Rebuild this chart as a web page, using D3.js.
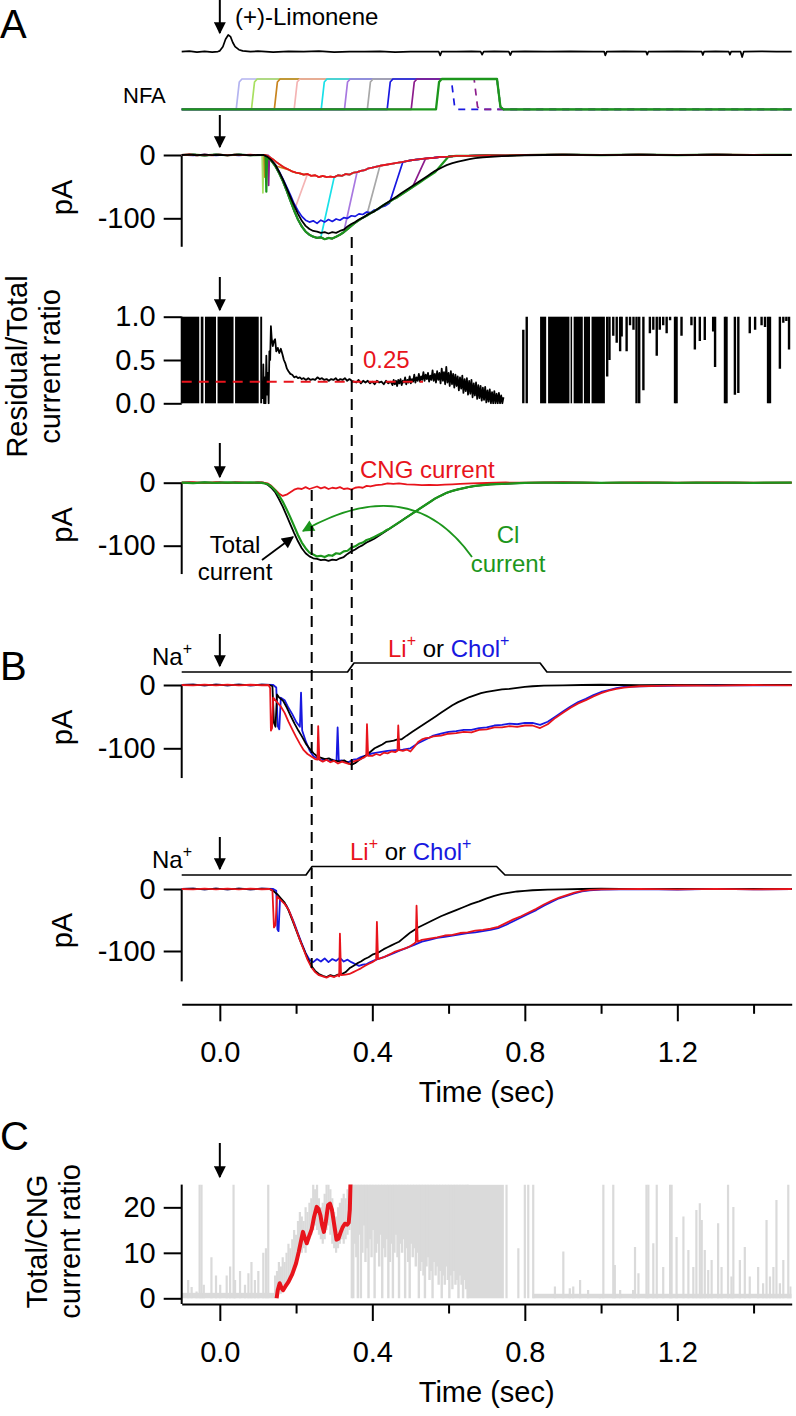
<!DOCTYPE html>
<html><head><meta charset="utf-8">
<script src="https://cdn.jsdelivr.net/npm/d3@7"></script>
<style>body{margin:0;background:#fff}svg{display:block}text{font-family:"Liberation Sans",Arial,sans-serif}</style>
</head><body><svg id="c" width="796" height="1416"></svg>
<script>
// ---------------- DATA ----------------
const timeMajorTicks = [0.0, 0.4, 0.8, 1.2];
const timeMinorTicks = [0.2, 0.6, 1.0, 1.4];
const currentTicks = [0, -100];
const ratioTicks = [0.0, 0.5, 1.0];
const cTicks = [0, 10, 20];
const dashTimes = [0.346, 0.241];
const refRatio = 0.25;

const limonene = [[-0.1,0],[-0.08,0.03],[-0.06,-0.02],[-0.04,0.02],[-0.02,-0.03],[-0.005,0.01],[0.0,0.05],[0.008,0.3],[0.015,0.75],[0.022,1.0],[0.028,0.9],[0.034,0.55],[0.04,0.3],[0.05,0.12],[0.06,0.05],[0.08,0],[0.1,0.03],[0.14,-0.02],[0.18,0.02],[0.22,0],[0.26,0.03],[0.3,-0.02],[0.34,0.01],[0.38,0],[0.42,0.02],[0.46,-0.02],[0.5,0.01],[0.54,0],[0.574,0.01],[0.578,-0.22],[0.582,0.01],[0.62,0],[0.66,0.02],[0.684,0],[0.688,-0.18],[0.692,0],[0.72,0.02],[0.758,0],[0.762,-0.2],[0.766,0],[0.8,0.02],[0.86,0],[0.92,0.02],[0.98,0],[1.008,0.01],[1.011,-0.22],[1.015,0],[1.06,0.02],[1.118,0],[1.121,-0.18],[1.124,0],[1.2,0.02],[1.264,0],[1.267,-0.2],[1.27,0],[1.3,0.02],[1.335,0],[1.338,-0.18],[1.341,0],[1.366,0],[1.37,-0.32],[1.374,0],[1.42,0.02],[1.46,0],[1.5,0.01]];

const nfaColors = ['#b4b4f0','#a8e060','#c8841e','#f4b4b4','#18e0e8','#a878e0','#a8a8a8','#1818e0','#8c1c8c','#1c961c'];
const nfaOn  = [0.046,0.086,0.146,0.198,0.269,0.330,0.390,0.442,0.505,0.570];
const nfaOff = [0.73,0.73,0.73,0.73,0.73,0.73,0.73,0.61,0.67,0.73];
const nfaDashedAfter = [null,null,null,null,null,null,null,0.59,0.59,null];
const nfaPreTrace = ['late','late','late','late','late','late','late','blue','late','late'];
const nfaSpikes = [[1,0.113,-60],[2,0.118,-35],[9,0.122,-58],[8,0.128,-48]];

const totalCurrent = [[-0.1,0],[-0.08,0.6],[-0.06,-0.4],[-0.04,0.5],[-0.02,-0.3],[0,0.4],[0.02,-0.5],[0.04,0.6],[0.06,0.2],[0.08,-0.4],[0.1,0.3],[0.115,0],[0.125,-3],[0.135,-8],[0.145,-15],[0.155,-26],[0.165,-38],[0.175,-52],[0.185,-66],[0.195,-80],[0.205,-93],[0.215,-104],[0.225,-112],[0.235,-117],[0.245,-120],[0.255,-121],[0.265,-123],[0.275,-122],[0.285,-124],[0.295,-122],[0.305,-123],[0.315,-120],[0.325,-118],[0.335,-113],[0.345,-109],[0.355,-106],[0.365,-102],[0.375,-99],[0.385,-95],[0.395,-92],[0.405,-89],[0.415,-85],[0.425,-81],[0.435,-77],[0.445,-73],[0.455,-69],[0.465,-65],[0.475,-61],[0.485,-57],[0.495,-53],[0.505,-49],[0.515,-45],[0.525,-41],[0.535,-37],[0.545,-33],[0.555,-29],[0.565,-25],[0.575,-22],[0.585,-19],[0.595,-16],[0.61,-13],[0.625,-10.5],[0.64,-8.5],[0.655,-6.5],[0.67,-5],[0.69,-3.8],[0.71,-2.8],[0.74,-1.8],[0.77,-1],[0.8,-0.4],[0.85,0],[0.9,0.3],[1.0,-0.2],[1.1,0.2],[1.2,-0.2],[1.3,0.2],[1.4,-0.2],[1.5,0]];

const residualCurrent = [[-0.1,0],[-0.08,0.8],[-0.06,-0.5],[-0.04,0.6],[-0.02,-0.4],[0,0.5],[0.02,-0.6],[0.04,0.5],[0.06,-0.3],[0.08,0.4],[0.1,-0.2],[0.12,0],[0.13,-3],[0.14,-7],[0.15,-12],[0.16,-16],[0.17,-20],[0.18,-23],[0.19,-26],[0.2,-28],[0.21,-29],[0.22,-31],[0.23,-30],[0.24,-33],[0.25,-32],[0.26,-35],[0.27,-33],[0.28,-35],[0.29,-34],[0.3,-35],[0.31,-32],[0.32,-33],[0.33,-30],[0.34,-31],[0.35,-28],[0.36,-27],[0.37,-25],[0.38,-24],[0.39,-21],[0.4,-20],[0.42,-17],[0.44,-15],[0.46,-13],[0.48,-11],[0.5,-8.5],[0.52,-7],[0.54,-5.5],[0.56,-4.5],[0.58,-3],[0.6,-2.5],[0.62,-1.5],[0.65,-1.5],[0.7,-0.5],[0.75,-0.8],[0.8,0],[0.9,0.6],[1.0,-0.3],[1.1,0.5],[1.2,-0.2],[1.3,0.6],[1.4,0],[1.5,0.3]];

const lateCurrent = [[-0.1,0],[-0.07,0.5],[-0.04,-0.5],[-0.01,0.5],[0.02,-0.4],[0.05,0.5],[0.08,-0.4],[0.115,0],[0.125,-3],[0.135,-9],[0.145,-17],[0.155,-28],[0.165,-41],[0.175,-56],[0.185,-72],[0.195,-88],[0.205,-102],[0.215,-113],[0.225,-121],[0.235,-126],[0.245,-129],[0.255,-131],[0.265,-130],[0.275,-133],[0.285,-131],[0.295,-132],[0.305,-129],[0.315,-126],[0.325,-122],[0.335,-117],[0.345,-112],[0.355,-107],[0.365,-103],[0.375,-99],[0.385,-96],[0.395,-92],[0.405,-89],[0.415,-85],[0.425,-81],[0.435,-77],[0.445,-74],[0.455,-70],[0.465,-67],[0.475,-63],[0.485,-59],[0.495,-55],[0.505,-51],[0.515,-47],[0.525,-43],[0.535,-39],[0.545,-35],[0.555,-31],[0.565,-27],[0.575,-23],[0.59,-19]];

const blueCurrent = [[-0.1,0],[-0.07,-0.5],[-0.04,0.5],[-0.01,-0.5],[0.02,0.4],[0.05,-0.5],[0.08,0.4],[0.115,0],[0.125,-3],[0.135,-8],[0.145,-15],[0.155,-25],[0.165,-37],[0.175,-50],[0.185,-63],[0.195,-77],[0.205,-88],[0.215,-97],[0.225,-103],[0.235,-106],[0.245,-104],[0.255,-108],[0.265,-103],[0.275,-106],[0.285,-102],[0.295,-105],[0.305,-101],[0.315,-103],[0.325,-99],[0.335,-100],[0.345,-96],[0.355,-97],[0.365,-93],[0.375,-94],[0.385,-90],[0.395,-91],[0.405,-87],[0.415,-86],[0.425,-82],[0.435,-80],[0.445,-76]];

const ratioBlocks = [[-0.1,-0.054],[-0.05,-0.043],[-0.039,-0.010],[-0.006,0.036],[0.040,0.102],[0.106,0.111],[0.840,0.856],[0.861,0.917],[0.920,0.924],[0.928,0.952],[0.955,0.971],[0.975,1.010]];
const ratioTrace = [[0.112,0.05],[0.114,0.45],[0.116,0.0],[0.118,0.3],[0.12,0.0],[0.122,0.55],[0.124,0.1],[0.126,0.35],[0.128,0.0],[0.13,0.6],[0.132,0.5],[0.134,0.89],[0.136,0.75],[0.139,0.66],[0.142,0.72],[0.145,0.74],[0.148,0.6],[0.152,0.64],[0.156,0.58],[0.16,0.63],[0.164,0.57],[0.168,0.5],[0.172,0.46],[0.176,0.4],[0.18,0.37],[0.185,0.34],[0.19,0.33],[0.195,0.3],[0.2,0.31],[0.205,0.29],[0.21,0.3],[0.215,0.28],[0.22,0.29],[0.226,0.27],[0.232,0.29],[0.238,0.27],[0.244,0.28],[0.25,0.27],[0.256,0.3],[0.262,0.28],[0.268,0.29],[0.274,0.27],[0.28,0.28],[0.286,0.26],[0.292,0.28],[0.298,0.27],[0.304,0.29],[0.31,0.26],[0.316,0.28],[0.322,0.27],[0.328,0.29],[0.334,0.26],[0.34,0.28],[0.346,0.26],[0.352,0.25],[0.358,0.24],[0.364,0.27],[0.37,0.23],[0.376,0.26],[0.382,0.24],[0.388,0.26],[0.394,0.23],[0.4,0.25],[0.406,0.22],[0.412,0.26],[0.418,0.24],[0.424,0.25],[0.43,0.22],[0.436,0.26],[0.442,0.23],[0.448,0.25],[0.453,0.21],[0.456,0.27],[0.459,0.22],[0.462,0.26],[0.465,0.2],[0.468,0.27],[0.471,0.23],[0.474,0.28],[0.477,0.21],[0.48,0.26],[0.483,0.24],[0.486,0.3],[0.489,0.22],[0.492,0.27],[0.495,0.24],[0.498,0.31],[0.501,0.23],[0.504,0.28],[0.507,0.25],[0.51,0.33],[0.513,0.24],[0.516,0.3],[0.519,0.26],[0.522,0.34],[0.525,0.25],[0.528,0.31],[0.531,0.27],[0.534,0.36],[0.537,0.26],[0.54,0.33],[0.543,0.28],[0.546,0.35],[0.549,0.25],[0.552,0.32],[0.555,0.27],[0.558,0.38],[0.561,0.26],[0.564,0.34],[0.567,0.24],[0.57,0.37],[0.573,0.27],[0.576,0.35],[0.579,0.23],[0.582,0.4],[0.585,0.26],[0.588,0.36],[0.591,0.22],[0.594,0.42],[0.597,0.24],[0.6,0.35],[0.603,0.2],[0.606,0.37],[0.609,0.22],[0.612,0.34],[0.615,0.18],[0.618,0.33],[0.621,0.2],[0.624,0.31],[0.627,0.15],[0.63,0.3],[0.633,0.17],[0.636,0.32],[0.639,0.12],[0.642,0.28],[0.645,0.14],[0.648,0.29],[0.651,0.1],[0.654,0.26],[0.657,0.11],[0.66,0.27],[0.663,0.07],[0.666,0.23],[0.669,0.09],[0.672,0.24],[0.675,0.05],[0.678,0.21],[0.681,0.06],[0.684,0.2],[0.687,0.03],[0.69,0.18],[0.693,0.04],[0.696,0.19],[0.699,0.01],[0.702,0.15],[0.705,0.02],[0.708,0.16],[0.711,0.0],[0.714,0.13],[0.717,0.0],[0.72,0.14],[0.723,0.0],[0.726,0.11],[0.729,0.0],[0.732,0.12],[0.735,0.0],[0.738,0.09],[0.741,0.0],[0.744,0.07]];
const ratioSegments = [[0.796,0,0.85],[0.805,0,1],[1.016,0.31,1],[1.022,0.5,1],[1.032,0.78,1],[1.041,0.7,1],[1.05,0.6,1],[1.054,0.77,1],[1.067,0.6,1],[1.076,0.9,1],[1.085,0.85,1],[1.093,0,1],[1.1,0,1],[1.111,0.15,1],[1.128,0.81,1],[1.137,0.85,1],[1.146,0.55,1],[1.154,0.85,1],[1.163,0.9,1],[1.172,0.81,1],[1.181,0.96,1],[1.194,0,1],[1.198,0,1],[1.211,0.78,1],[1.237,0.9,1],[1.246,0.62,1],[1.259,0.72,1],[1.272,0.73,1],[1.294,0.83,1],[1.299,0.42,1],[1.325,0,1],[1.329,0,1],[1.351,0.1,1],[1.36,0.12,1],[1.39,0.81,1],[1.404,0.85,1],[1.421,0.9,1],[1.43,0.88,1],[1.438,0,1],[1.443,0,1],[1.469,0.4,1],[1.478,0.93,1],[1.486,0.95,1],[1.493,0.62,1]];

const cngCurrent = [[-0.1,0],[-0.07,0.8],[-0.04,-0.5],[-0.01,0.7],[0.02,-0.4],[0.05,0.6],[0.08,-0.3],[0.11,0.3],[0.125,-1],[0.135,-5],[0.145,-11],[0.155,-17],[0.165,-21],[0.175,-19],[0.185,-15],[0.195,-11],[0.205,-9],[0.215,-10],[0.225,-7],[0.235,-10],[0.245,-8],[0.255,-6],[0.265,-9],[0.275,-7],[0.285,-10],[0.295,-8],[0.305,-9],[0.315,-7],[0.325,-10],[0.335,-9],[0.345,-11],[0.355,-8],[0.365,-7],[0.375,-8],[0.385,-5],[0.395,-6],[0.41,-4],[0.425,-3],[0.44,-1],[0.455,-2],[0.47,-1],[0.49,-2.5],[0.51,-3],[0.53,-4],[0.55,-3.5],[0.57,-4],[0.59,-3],[0.61,-2.5],[0.63,-2],[0.66,-1],[0.7,-0.5],[0.75,0.3],[0.8,0],[0.9,0.4],[1.0,-0.2],[1.1,0.4],[1.2,0],[1.3,0.5],[1.4,0],[1.5,0.2]];

const clCurrent = [[-0.1,0],[-0.07,-0.6],[-0.04,0.5],[-0.01,-0.4],[0.02,0.6],[0.05,-0.3],[0.08,0.5],[0.11,-0.2],[0.125,-2],[0.135,-6],[0.145,-12],[0.155,-20],[0.165,-30],[0.175,-42],[0.185,-55],[0.195,-69],[0.205,-83],[0.215,-95],[0.225,-104],[0.235,-111],[0.245,-114],[0.255,-117],[0.265,-116],[0.275,-118],[0.285,-115],[0.295,-116],[0.305,-112],[0.315,-113],[0.325,-109],[0.335,-108],[0.345,-103],[0.355,-101],[0.365,-97],[0.375,-95],[0.385,-91],[0.395,-89],[0.405,-86],[0.415,-83],[0.425,-80],[0.435,-76],[0.445,-73],[0.455,-69],[0.465,-65],[0.475,-61],[0.485,-57],[0.495,-53],[0.505,-49],[0.515,-45],[0.525,-41],[0.535,-37],[0.545,-33],[0.555,-29],[0.565,-25],[0.575,-22],[0.585,-19],[0.595,-16],[0.61,-13],[0.625,-10.5],[0.64,-8.5],[0.655,-6.5],[0.67,-5],[0.69,-3.8],[0.71,-2.8],[0.74,-1.8],[0.77,-1],[0.8,-0.4],[0.85,0.3],[0.9,-0.3],[0.95,0.3],[1.0,-0.3],[1.05,0.3],[1.1,-0.3],[1.15,0.3],[1.2,-0.3],[1.25,0.3],[1.3,-0.3],[1.35,0.3],[1.4,-0.3],[1.45,0.3],[1.5,0]];

const b1Solution = [[-0.1,0],[0.335,0],[0.352,1],[0.84,1],[0.858,0],[1.5,0]];
const b2Solution = [[-0.1,0],[0.226,0],[0.242,1],[0.726,1],[0.748,0],[1.5,0]];

const b1Black = [[-0.1,0],[-0.07,0.7],[-0.04,-0.5],[-0.01,0.6],[0.02,-0.4],[0.05,0.5],[0.08,-0.4],[0.11,0.4],[0.13,0],[0.138,-2],[0.142,-60],[0.146,-66],[0.15,-15],[0.156,-20],[0.166,-25],[0.176,-36],[0.186,-49],[0.196,-61],[0.206,-72],[0.216,-82],[0.226,-93],[0.236,-101],[0.246,-108],[0.256,-113],[0.266,-115],[0.276,-117],[0.286,-116],[0.296,-119],[0.306,-120],[0.316,-121],[0.326,-119],[0.336,-123],[0.346,-126],[0.356,-123],[0.366,-118],[0.376,-114],[0.386,-110],[0.396,-105],[0.406,-100],[0.416,-97],[0.426,-94],[0.436,-90],[0.446,-89],[0.456,-88],[0.466,-86],[0.476,-86],[0.49,-80],[0.505,-74],[0.52,-68],[0.535,-62],[0.55,-56],[0.565,-50],[0.58,-44],[0.595,-38],[0.61,-32],[0.625,-27],[0.64,-23],[0.655,-19],[0.67,-16],[0.685,-13],[0.7,-11],[0.72,-9],[0.74,-7],[0.76,-6],[0.78,-4.5],[0.8,-3],[0.82,-2],[0.85,-1],[0.9,-0.5],[0.95,0],[1.0,0.4],[1.1,-0.3],[1.2,0.3],[1.3,-0.2],[1.4,0.3],[1.5,0]];
const b1Red = [[-0.1,0],[-0.07,-0.6],[-0.04,0.6],[-0.01,-0.5],[0.02,0.5],[0.05,-0.6],[0.08,0.4],[0.11,-0.4],[0.128,0],[0.132,-5],[0.134,-72],[0.137,-68],[0.14,-20],[0.15,-27],[0.16,-34],[0.17,-44],[0.18,-58],[0.19,-70],[0.2,-82],[0.21,-93],[0.22,-103],[0.23,-109],[0.24,-113],[0.25,-117],[0.256,-118],[0.258,-65],[0.261,-118],[0.27,-121],[0.28,-118],[0.29,-122],[0.3,-120],[0.31,-124],[0.32,-121],[0.33,-123],[0.34,-125],[0.35,-121],[0.36,-119],[0.37,-117],[0.38,-114],[0.384,-112],[0.386,-62],[0.389,-112],[0.4,-112],[0.41,-109],[0.42,-111],[0.43,-107],[0.44,-108],[0.45,-105],[0.46,-106],[0.466,-104],[0.468,-64],[0.471,-103],[0.48,-104],[0.49,-102],[0.5,-105],[0.51,-98],[0.52,-90],[0.53,-86],[0.54,-84],[0.55,-83],[0.56,-81],[0.58,-80],[0.6,-77],[0.62,-76],[0.64,-74],[0.66,-75],[0.68,-71],[0.7,-70],[0.72,-67],[0.74,-67],[0.76,-65],[0.78,-66],[0.8,-64],[0.82,-64],[0.84,-68],[0.86,-62],[0.88,-52],[0.9,-44],[0.92,-36],[0.94,-29],[0.96,-24],[0.98,-18],[1.0,-13],[1.02,-9],[1.04,-6],[1.06,-4],[1.08,-3],[1.1,-2],[1.15,-1.5],[1.2,-0.5],[1.3,-1],[1.4,0],[1.5,-0.5]];
const b1Blue = [[-0.1,0],[-0.07,0.5],[-0.04,-0.6],[-0.01,0.5],[0.02,-0.4],[0.05,0.6],[0.08,-0.5],[0.11,0.5],[0.14,0],[0.148,-4],[0.152,-65],[0.156,-70],[0.16,-20],[0.17,-24],[0.18,-36],[0.19,-46],[0.2,-58],[0.21,-66],[0.213,-12],[0.216,-72],[0.226,-90],[0.236,-104],[0.246,-113],[0.256,-116],[0.266,-119],[0.276,-117],[0.286,-120],[0.296,-118],[0.306,-121],[0.309,-67],[0.312,-120],[0.32,-119],[0.33,-122],[0.34,-121],[0.35,-118],[0.36,-117],[0.37,-114],[0.38,-112],[0.39,-110],[0.4,-108],[0.42,-106],[0.44,-104],[0.46,-103],[0.48,-102],[0.5,-100],[0.52,-92],[0.54,-86],[0.56,-80],[0.58,-77],[0.6,-74],[0.62,-73],[0.64,-71],[0.66,-71],[0.68,-68],[0.7,-67],[0.72,-64],[0.74,-63],[0.76,-61],[0.78,-62],[0.8,-60],[0.82,-60],[0.84,-63],[0.86,-58],[0.88,-50],[0.9,-42],[0.92,-34],[0.94,-27],[0.96,-22],[0.98,-16],[1.0,-11],[1.02,-8],[1.04,-5],[1.06,-3],[1.1,-2],[1.2,-1],[1.3,0],[1.4,-0.5],[1.5,0]];

const b2Black = [[-0.1,0],[-0.07,0.6],[-0.04,-0.5],[-0.01,0.5],[0.02,-0.5],[0.05,0.6],[0.08,-0.4],[0.11,0.4],[0.13,0],[0.14,-3],[0.15,-8],[0.16,-15],[0.17,-22],[0.18,-34],[0.19,-50],[0.2,-66],[0.21,-82],[0.22,-97],[0.23,-112],[0.24,-124],[0.25,-132],[0.26,-137],[0.27,-140],[0.28,-142],[0.29,-139],[0.3,-141],[0.31,-138],[0.32,-137],[0.33,-134],[0.34,-128],[0.35,-124],[0.36,-120],[0.37,-117],[0.38,-113],[0.39,-110],[0.4,-106],[0.41,-104],[0.42,-101],[0.43,-97],[0.44,-94],[0.45,-91],[0.46,-88],[0.47,-85],[0.48,-80],[0.49,-75],[0.5,-70],[0.51,-66],[0.52,-62],[0.54,-56],[0.56,-50],[0.58,-44],[0.6,-39],[0.62,-34],[0.64,-29],[0.66,-24],[0.68,-20],[0.7,-15],[0.72,-11],[0.74,-8],[0.76,-6],[0.78,-4],[0.8,-3],[0.82,-2],[0.86,-1],[0.9,-0.5],[0.95,0],[1.0,0.4],[1.1,-0.3],[1.2,0.3],[1.3,-0.3],[1.4,0.3],[1.5,0]];
const b2Red = [[-0.1,0],[-0.07,-0.5],[-0.04,0.6],[-0.01,-0.5],[0.02,0.5],[0.05,-0.5],[0.08,0.5],[0.11,-0.4],[0.13,0],[0.138,-2],[0.142,-62],[0.146,-58],[0.15,-12],[0.16,-18],[0.17,-24],[0.18,-33],[0.19,-48],[0.2,-65],[0.21,-82],[0.22,-98],[0.23,-114],[0.24,-126],[0.25,-134],[0.26,-139],[0.27,-141],[0.28,-143],[0.29,-140],[0.3,-142],[0.31,-139],[0.313,-141],[0.315,-72],[0.318,-139],[0.33,-138],[0.34,-137],[0.35,-134],[0.36,-131],[0.37,-128],[0.38,-124],[0.39,-121],[0.4,-118],[0.41,-114],[0.412,-53],[0.415,-113],[0.43,-110],[0.44,-107],[0.45,-104],[0.46,-101],[0.47,-99],[0.48,-97],[0.49,-95],[0.5,-92],[0.51,-88],[0.514,-86],[0.516,-27],[0.519,-85],[0.53,-82],[0.55,-80],[0.57,-78],[0.59,-75],[0.61,-74],[0.63,-71],[0.65,-70],[0.67,-67],[0.69,-66],[0.71,-64],[0.73,-61],[0.75,-55],[0.77,-49],[0.79,-44],[0.81,-38],[0.83,-32],[0.85,-25],[0.87,-19],[0.89,-14],[0.91,-10],[0.93,-6],[0.95,-3],[0.97,-1.5],[1.0,-0.5],[1.1,0.3],[1.2,-0.5],[1.3,0.2],[1.4,-0.5],[1.5,0]];
const b2Blue = [[-0.1,0],[-0.07,0.5],[-0.04,-0.5],[-0.01,0.6],[0.02,-0.5],[0.05,0.5],[0.08,-0.5],[0.11,0.4],[0.14,0],[0.148,-3],[0.151,-65],[0.154,-68],[0.158,-15],[0.165,-20],[0.175,-27],[0.185,-40],[0.195,-55],[0.205,-72],[0.215,-88],[0.225,-103],[0.235,-114],[0.245,-118],[0.255,-113],[0.265,-117],[0.275,-112],[0.285,-118],[0.295,-113],[0.305,-116],[0.315,-111],[0.325,-117],[0.335,-114],[0.345,-118],[0.355,-121],[0.365,-124],[0.375,-122],[0.385,-121],[0.395,-118],[0.41,-114],[0.43,-110],[0.45,-105],[0.47,-100],[0.49,-95],[0.51,-90],[0.53,-85],[0.55,-82],[0.57,-79],[0.59,-77],[0.61,-75],[0.63,-73],[0.65,-71],[0.67,-70],[0.69,-68],[0.71,-66],[0.73,-63],[0.75,-58],[0.77,-52],[0.79,-46],[0.81,-40],[0.83,-34],[0.85,-27],[0.87,-21],[0.89,-15],[0.91,-11],[0.93,-7],[0.95,-4],[0.97,-2],[1.0,-1],[1.1,0],[1.2,-0.8],[1.3,0.2],[1.4,-0.6],[1.5,0]];

const cRatioRed = [[0.149,0],[0.152,1.8],[0.157,3.3],[0.162,2.2],[0.166,1.8],[0.172,2.6],[0.18,3.6],[0.19,5.3],[0.2,7.7],[0.207,10.2],[0.213,12.6],[0.218,14.6],[0.223,13.2],[0.228,12.1],[0.234,13.6],[0.241,15.2],[0.247,17.8],[0.254,20.1],[0.259,19.6],[0.264,18.2],[0.268,16.2],[0.273,14.6],[0.278,16.8],[0.284,20.5],[0.289,20.8],[0.294,19.5],[0.3,16.2],[0.306,12.9],[0.311,13.1],[0.316,14.3],[0.322,15.6],[0.328,16.4],[0.334,16.2],[0.338,16.6],[0.341,19.5],[0.343,26]];
const cGrayBlocks = [[-0.1,0.145,0,1.2],[0.648,0.745,0,25],[0.82,1.5,0,1.0]];
// dense region: [time, lower end] of grey excursions reaching the top (25)
const cGrayDense = [[0.350,0],[0.354,12],[0.358,9],[0.362,0],[0.366,14],[0.370,0],[0.374,10],[0.378,16],[0.382,8],[0.386,11],[0.390,0],[0.394,13],[0.398,9],[0.402,15],[0.406,0],[0.410,10],[0.414,12],[0.418,7],[0.422,14],[0.426,0],[0.430,11],[0.434,9],[0.438,13],[0.442,0],[0.446,8],[0.450,12],[0.454,0],[0.458,10],[0.462,14],[0.466,9],[0.470,0],[0.474,12],[0.478,10],[0.482,13],[0.486,0],[0.490,11],[0.494,8],[0.498,0],[0.502,12],[0.506,9],[0.510,11],[0.514,7],[0.518,10],[0.522,0],[0.526,6],[0.530,8],[0.534,5],[0.538,0],[0.542,7],[0.546,9],[0.550,4],[0.554,6],[0.558,0],[0.562,8],[0.566,5],[0.570,7],[0.574,3],[0.578,6],[0.582,0],[0.586,5],[0.590,3],[0.594,7],[0.598,4],[0.602,0],[0.606,5],[0.610,2],[0.614,6],[0.618,3],[0.622,4],[0.626,0],[0.630,5],[0.634,3],[0.638,0],[0.642,4],[0.646,2],[0.650,0]];
const cGraySegments = [[-0.083,0,4],[-0.074,0,2.5],[-0.061,0,1.5],[-0.053,0,25],[-0.048,0,25],[-0.042,0,3],[-0.022,0,9],[-0.01,0,5],[0.001,0,3],[0.018,0,5],[0.027,0,7],[0.036,0,25],[0.04,0,4],[0.053,0,6],[0.066,0,3],[0.075,0,5.5],[0.083,0,8],[0.092,0,4],[0.101,0,6],[0.114,0,10],[0.121,0,11],[0.127,0,25],
[0.145,0,5],[0.15,1,6],[0.155,2,8],[0.16,1,7],[0.165,2,9],[0.17,3,8],[0.175,3,10],[0.18,4,12],[0.185,5,11],[0.19,6,13],[0.195,7,15],[0.2,8,14],[0.205,9,17],[0.21,11,19],[0.215,10,18],[0.22,11,17],[0.225,10,20],[0.23,12,19],[0.235,13,21],[0.24,14,22],[0.245,15,25],[0.25,16,24],[0.255,15,25],[0.26,14,22],[0.265,13,20],[0.27,12,21],[0.275,13,23],[0.28,15,25],[0.285,16,25],[0.29,14,24],[0.295,12,22],[0.3,11,19],[0.305,10,18],[0.31,11,20],[0.315,12,21],[0.32,13,22],[0.325,12,23],[0.33,13,22],[0.335,14,24],[0.34,15,25],[0.346,0,25],
[0.752,0,25],[0.783,0,11],[0.8,0,25],[0.809,0,25],[0.822,0,25],[0.879,0,2.6],[0.901,0,10.3],[0.918,0,2.2],[0.927,0,2.6],[0.945,0,4],[0.966,0,1.8],[0.997,0,0.4],[1.006,0,25],[1.032,0,25],[1.036,0,7.3],[1.05,0,1.8],[1.084,0,1.8],[1.089,0,11.3],[1.098,0,5.5],[1.119,0,25],[1.124,0,25],[1.137,0,12.1],[1.146,0,25],[1.163,0,6.9],[1.181,0,25],[1.185,0,25],[1.198,0,13.5],[1.216,0,18],[1.229,0,10.6],[1.242,0,6.9],[1.25,0,19.4],[1.259,0,20.9],[1.264,0,17.2],[1.272,0,10.6],[1.281,0,6.2],[1.29,0,8.4],[1.307,0,16.5],[1.316,0,6.9],[1.333,0,25],[1.342,0,4.8],[1.347,0,20.1],[1.364,0,8.4],[1.377,0,11.3],[1.39,0,4.8],[1.412,0,6.9],[1.425,0,3.3],[1.434,0,17.2],[1.443,0,4.8],[1.452,0,6.9],[1.46,0,21.6],[1.469,0,3.3],[1.478,0,8.4],[1.491,0,25],[1.497,0,2.6]];

// ---------------- DRAWING ----------------
const RED='#e8141c', GREEN='#1c961c', BLUE='#1818e0', BLACK='#000', GRAY='#dadada';
const svg = d3.select('#c');
const x = d3.scaleLinear().domain([-0.1,1.5]).range([181.7,791.7]);

const yLim = d3.scaleLinear().domain([0,1]).range([51.7,35]);
const yNfa = d3.scaleLinear().domain([0,1]).range([109.3,79]);
const yA1 = d3.scaleLinear().domain([0,-145]).range([155,155+145*0.633]);
const yR  = d3.scaleLinear().domain([0,1]).range([403.3,316.7]);
const yA3 = d3.scaleLinear().domain([0,-145]).range([482.7,482.7+145*0.63]);
const yB1 = d3.scaleLinear().domain([0,-147]).range([685,685+147*0.633]);
const yB1s = d3.scaleLinear().domain([0,1]).range([672,663]);
const yB2 = d3.scaleLinear().domain([0,-149]).range([889,889+149*0.62]);
const yB2s = d3.scaleLinear().domain([0,1]).range([875,866.5]);
const yC  = d3.scaleLinear().domain([0,25]).range([1298.3,1184.6]);

const defs = svg.append('defs');
function marker(id,color){
  defs.append('marker').attr('id',id).attr('viewBox','0 0 10 10').attr('refX',9).attr('refY',5)
    .attr('markerWidth',13).attr('markerHeight',12).attr('markerUnits','userSpaceOnUse').attr('orient','auto')
    .append('path').attr('d','M0,0 L10,5 L0,10 z').attr('fill',color);
}
marker('ah','#000'); marker('ahg',GREEN);
defs.append('clipPath').attr('id','clipR').append('rect').attr('x',x(-0.1)).attr('y',yR(1)-1).attr('width',x(1.5)-x(-0.1)).attr('height',yR(0)-yR(1)+2);
defs.append('clipPath').attr('id','clipC').append('rect').attr('x',x(-0.1)).attr('y',yC(25)).attr('width',x(1.5)-x(-0.1)).attr('height',yC(0)-yC(25)+1);

function trace(g,data,ys,color,w,dash){
  return g.append('path').datum(data)
    .attr('d', d3.line().x(d=>x(d[0])).y(d=>ys(d[1])))
    .attr('fill','none').attr('stroke',color).attr('stroke-width',w||1.7)
    .attr('stroke-linejoin','round').attr('stroke-dasharray',dash||null);
}
function txt(s,xx,yy,size,color,anchor){
  return svg.append('text').attr('x',xx).attr('y',yy).attr('font-size',size).attr('fill',color||'#000')
    .attr('text-anchor',anchor||'start').text(s);
}
function arrowDown(t,y1,y2){
  svg.append('line').attr('x1',x(t)).attr('x2',x(t)).attr('y1',y1).attr('y2',y2)
    .attr('stroke','#000').attr('stroke-width',2).attr('marker-end','url(#ah)');
}
function yAxis(ys,ticks,fmt,top,bottom){
  const g = svg.append('g').attr('transform',`translate(${x(-0.1)},0)`)
    .call(d3.axisLeft(ys).tickValues(ticks).tickSize(18).tickPadding(8).tickSizeOuter(0).tickFormat(fmt));
  g.select('.domain').remove();
  g.append('line').attr('x1',0).attr('x2',0).attr('y1',top).attr('y2',bottom).attr('stroke','#000').attr('stroke-width',2);
  g.selectAll('.tick line').attr('stroke-width',2);
  g.selectAll('.tick text').attr('font-size',29).attr('font-family','"Liberation Sans",Arial,sans-serif').attr('fill','#000');
  return g;
}
function timeAxis(yPos){
  const gM = svg.append('g').attr('transform',`translate(0,${yPos})`)
    .call(d3.axisBottom(x).tickValues(timeMajorTicks).tickSize(17).tickPadding(20).tickSizeOuter(0).tickFormat(d3.format('.1f')));
  gM.select('.domain').attr('stroke-width',2);
  gM.selectAll('.tick line').attr('stroke-width',2);
  gM.selectAll('.tick text').attr('font-size',29).attr('font-family','"Liberation Sans",Arial,sans-serif').attr('fill','#000');
  const gm = svg.append('g').attr('transform',`translate(0,${yPos})`)
    .call(d3.axisBottom(x).tickValues(timeMinorTicks).tickSize(9.5).tickSizeOuter(0).tickFormat(''));
  gm.select('.domain').remove();
  gm.selectAll('.tick line').attr('stroke-width',2);
  txt('Time (sec)', (x(-0.1)+x(1.5))/2, yPos+97.7, 29, '#000', 'middle');
}
function rotLabel(lines, cy, base0){
  lines.forEach((s,i)=>{
    svg.append('text').attr('transform',`translate(${base0+i*33},${cy}) rotate(-90)`)
      .attr('text-anchor','middle').attr('font-size',29).text(s);
  });
}
function ionLabel(xx,yy){
  const t = svg.append('text').attr('x',xx).attr('y',yy).attr('font-size',24);
  t.append('tspan').attr('fill',RED).text('Li');
  t.append('tspan').attr('fill',RED).attr('font-size',16).attr('dy',-11).text('+');
  t.append('tspan').attr('dy',11).text(' or ');
  t.append('tspan').attr('fill',BLUE).text('Chol');
  t.append('tspan').attr('fill',BLUE).attr('font-size',16).attr('dy',-11).text('+');
}
function naLabel(xx,yy){
  const t = svg.append('text').attr('x',xx).attr('y',yy).attr('font-size',24);
  t.append('tspan').text('Na'); t.append('tspan').attr('font-size',16).attr('dy',-11).text('+');
}
function pA(ys){
  svg.append('text').attr('transform',`translate(72,${ys(-67)}) rotate(-90)`).attr('text-anchor','middle').attr('font-size',29).text('pA');
}
const fmtInt = d => String(d);

// Panel labels
txt('A',0,38,40);
txt('B',0,680,40);
txt('C',0,1150,40);

// Limonene
trace(svg,limonene,yLim,BLACK,1.7);
arrowDown(0,0,33);
txt('(+)-Limonene',235,25,24);

// NFA steps
txt('NFA',123,103,22);
nfaOn.forEach((on,i)=>{
  const off = nfaOff[i];
  const pts = [[-0.1,0],[on-0.003,0],[on+0.005,0.9],[on+0.012,1],[off-0.003,1],[off+0.006,0.08],[off+0.014,0],[1.5,0]];
  const w = i===9 ? 2.3 : 1.7;
  const split = nfaDashedAfter[i];
  if (split===null){ trace(svg,pts,yNfa,nfaColors[i],w); }
  else {
    trace(svg,pts.filter(d=>d[0]<split).concat([[split,1]]),yNfa,nfaColors[i],w);
    trace(svg,[[split,1]].concat(pts.filter(d=>d[0]>split)),yNfa,nfaColors[i],w,'7,6');
  }
});

// A1 currents
arrowDown(0,115,147);
yAxis(yA1,currentTicks,fmtInt,yA1(0),yA1(-145));
pA(yA1);
const preMap = {late: lateCurrent, blue: blueCurrent};
nfaOn.forEach((on,i)=>{
  const pre = preMap[nfaPreTrace[i]].filter(d=>d[0] <= on+0.004);
  const post = residualCurrent.filter(d=>d[0] >= on+0.026);
  let pts = pre.concat(post);
  nfaSpikes.filter(s=>s[0]===i).forEach(s=>{
    pts.push([s[1]-0.002, 0],[s[1],s[2]],[s[1]+0.002,-2]);
  });
  pts.sort((a,b)=>a[0]-b[0]);
  trace(svg,pts,yA1,nfaColors[i], i===9?2.2:1.7);
});
trace(svg,residualCurrent,yA1,RED,1.8);
trace(svg,totalCurrent,yA1,BLACK,1.8);

// Ratio panel
arrowDown(0,277,310);
yAxis(yR,ratioTicks,d3.format('.1f'),yR(1),yR(0));
rotLabel(['Residual/Total','current ratio'],366.5,27);
const gR = svg.append('g').attr('clip-path','url(#clipR)');
gR.selectAll('rect.rb').data(ratioBlocks).enter().append('rect')
  .attr('x',d=>x(d[0])).attr('width',d=>x(d[1])-x(d[0])).attr('y',yR(1)).attr('height',yR(0)-yR(1)).attr('fill','#000');
gR.selectAll('line.rs').data(ratioSegments).enter().append('line')
  .attr('x1',d=>x(d[0])).attr('x2',d=>x(d[0])).attr('y1',d=>yR(d[1])).attr('y2',d=>yR(d[2])).attr('stroke','#000').attr('stroke-width',2.4);
trace(gR,ratioTrace,yR,BLACK,1.8);
trace(svg,[[-0.1,refRatio],[0.533,refRatio]],yR,RED,2,'10,7');
txt('0.25',363,368,24,RED);

// A3
arrowDown(0,443,477);
yAxis(yA3,currentTicks,fmtInt,yA3(0),yA3(-145));
pA(yA3);
trace(svg,totalCurrent,yA3,BLACK,1.8);
trace(svg,cngCurrent,yA3,RED,1.8);
trace(svg,clCurrent,yA3,GREEN,2.2);
txt('CNG current',360,478,24,RED);
txt('Total',235,553,24,'#000','middle');
txt('current',235,580,24,'#000','middle');
svg.append('line').attr('x1',262).attr('y1',560).attr('x2',293).attr('y2',537).attr('stroke','#000').attr('stroke-width',1.8).attr('marker-end','url(#ah)');
txt('Cl',508,543,24,GREEN,'middle');
txt('current',508,572,24,GREEN,'middle');
svg.append('path').attr('d','M472,557 Q410,470 303,531').attr('fill','none').attr('stroke',GREEN).attr('stroke-width',1.8).attr('marker-end','url(#ahg)');

// B1
arrowDown(0,634,666);
trace(svg,b1Solution,yB1s,BLACK,1.7);
naLabel(152,665);
ionLabel(388,657);
yAxis(yB1,currentTicks,fmtInt,yB1(0),yB1(-147));
pA(yB1);
trace(svg,b1Blue,yB1,BLUE,1.8);
trace(svg,b1Black,yB1,BLACK,1.8);
trace(svg,b1Red,yB1,RED,1.8);

// B2
arrowDown(0,837,869);
trace(svg,b2Solution,yB2s,BLACK,1.7);
naLabel(152,868);
ionLabel(350,860);
yAxis(yB2,currentTicks,fmtInt,yB2(0),yB2(-149));
pA(yB2);
trace(svg,b2Blue,yB2,BLUE,1.8);
trace(svg,b2Black,yB2,BLACK,1.8);
trace(svg,b2Red,yB2,RED,1.8);
timeAxis(1004.3);

// dashed verticals
const dashExtents = [[237,770],[490,968]];
dashTimes.forEach((t,i)=>{
  svg.append('line').attr('x1',x(t)).attr('x2',x(t)).attr('y1',dashExtents[i][0]).attr('y2',dashExtents[i][1])
    .attr('stroke','#000').attr('stroke-width',2).attr('stroke-dasharray','11,7');
});

// C
arrowDown(0,1143,1177);
const gC = svg.append('g').attr('clip-path','url(#clipC)');
gC.selectAll('rect.cb').data(cGrayBlocks).enter().append('rect')
  .attr('x',d=>x(d[0])).attr('width',d=>x(d[1])-x(d[0])).attr('y',d=>yC(d[3])).attr('height',d=>yC(d[2])-yC(d[3])).attr('fill',GRAY);
gC.selectAll('line.cd').data(cGrayDense).enter().append('line')
  .attr('x1',d=>x(d[0])).attr('x2',d=>x(d[0])).attr('y1',d=>yC(d[1])).attr('y2',yC(25)).attr('stroke',GRAY).attr('stroke-width',2.4);
gC.selectAll('line.cs').data(cGraySegments).enter().append('line')
  .attr('x1',d=>x(d[0])).attr('x2',d=>x(d[0])).attr('y1',d=>yC(d[1])).attr('y2',d=>yC(d[2])).attr('stroke',GRAY).attr('stroke-width',2.2);
trace(gC,cRatioRed,yC,RED,4);
yAxis(yC,cTicks,fmtInt,yC(25),1304);
timeAxis(1304);
rotLabel(['Total/CNG','current ratio'],1241.5,47);
</script></body></html>
